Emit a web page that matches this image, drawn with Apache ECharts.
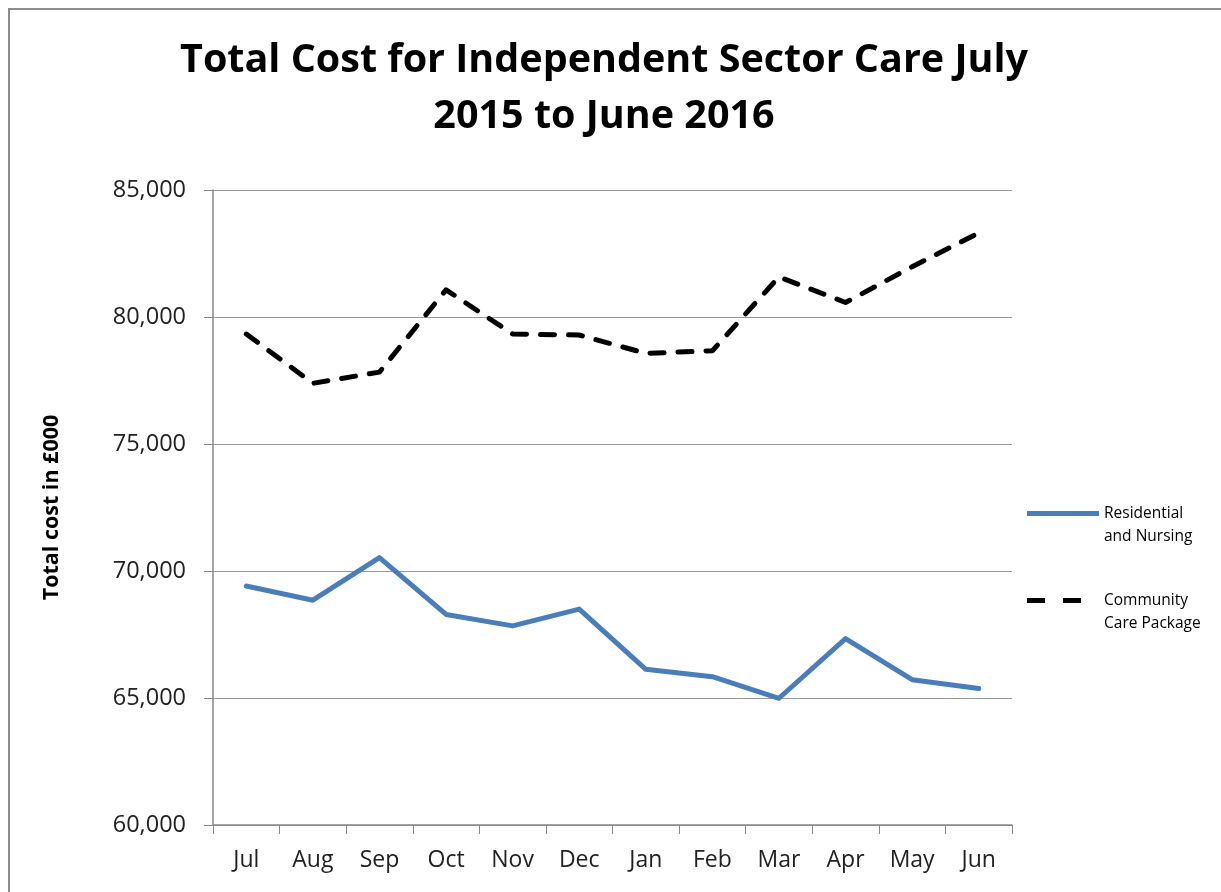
<!DOCTYPE html>
<html>
<head>
    <title>Total Cost for Independent Sector Care</title>
    <script src="https://cdn.jsdelivr.net/npm/echarts@6/dist/echarts.min.js"></script>
    <style>
        html, body {
            margin: 0;
            padding: 0;
            background: #fff;
        }
        #frame {
            position: absolute;
            left: 8px;
            top: 8px;
            width: 1240px;
            height: 900px;
            border: 2px solid #8c8c8c;
        }
        #chart {
            position: absolute;
            left: 0;
            top: 0;
            width: 1221px;
            height: 892px;
        }
    </style>
</head>
<body>
<div id="frame"></div>
<div id="chart"></div>
<script>
    var months = ['Jul', 'Aug', 'Sep', 'Oct', 'Nov', 'Dec', 'Jan', 'Feb', 'Mar', 'Apr', 'May', 'Jun'];
    var residentialNursing = [69410, 68850, 70530, 68290, 67840, 68500, 66130, 65840, 64990, 67340, 65720, 65370];
    var communityCare = [79330, 77390, 77830, 81070, 79330, 79290, 78570, 78670, 81580, 80570, 81980, 83310];
    var seriesNames = ['Residential\nand Nursing', 'Community\nCare Package'];

    var font = 'Open Sans';
    var chart = echarts.init(document.getElementById('chart'));

    // legend icons: solid bar and two dashes (last point only stretches the box to full width)
    var solidIcon = 'path://M0,0 L72,0 L72,5 L0,5 Z';
    var dashIcon = 'path://M0,0 L18,0 L18,5 L0,5 Z M36,0 L54,0 L54,5 L36,5 Z M72,2.5 L72,2.5 Z';

    chart.setOption({
        animation: false,
        title: {
            text: 'Total Cost for Independent Sector Care July\n2015 to June 2016',
            left: 599,
            textAlign: 'center',
            top: 28,
            textStyle: {
                fontFamily: font,
                fontWeight: 'bold',
                fontSize: 39.5,
                lineHeight: 56,
                color: '#000'
            }
        },
        legend: {
            orient: 'vertical',
            left: 1022,
            top: 474,
            itemWidth: 72,
            itemHeight: 5,
            itemGap: 18,
            data: [
                { name: seriesNames[0], icon: solidIcon, itemStyle: { color: '#4a7ebb' } },
                { name: seriesNames[1], icon: dashIcon, itemStyle: { color: '#000' } }
            ],
            formatter: function (name) {
                return '\n' + name;
            },
            textStyle: {
                fontFamily: font,
                fontSize: 15.5,
                lineHeight: 23,
                color: '#000'
            }
        },
        grid: {
            left: 213,
            right: 209,
            top: 190,
            bottom: 67
        },
        xAxis: {
            type: 'category',
            data: months,
            boundaryGap: true,
            axisLine: { lineStyle: { color: '#888', width: 1.5 } },
            axisTick: { show: true, length: 9, lineStyle: { color: '#888' } },
            axisLabel: {
                fontFamily: font,
                fontSize: 23,
                color: '#222',
                margin: 24
            }
        },
        yAxis: {
            type: 'value',
            min: 60000,
            max: 85000,
            interval: 5000,
            name: 'Total cost in £000',
            nameLocation: 'middle',
            nameGap: 150,
            nameTextStyle: {
                fontFamily: font,
                fontWeight: 'bold',
                fontSize: 21.5,
                color: '#000'
            },
            axisLine: { show: true, lineStyle: { color: '#888', width: 1.5 } },
            axisTick: { show: true, length: 9, lineStyle: { color: '#888' } },
            splitLine: { lineStyle: { color: '#999', width: 1.2 } },
            axisLabel: {
                fontFamily: font,
                fontSize: 23.5,
                color: '#222',
                margin: 27,
                formatter: function (v) {
                    return v.toLocaleString('en-GB');
                }
            }
        },
        series: [
            {
                name: seriesNames[0],
                type: 'line',
                data: residentialNursing,
                symbol: 'none',
                lineStyle: { color: '#4a7ebb', width: 5, cap: 'round', join: 'round' },
                itemStyle: { color: '#4a7ebb' }
            },
            {
                name: seriesNames[1],
                type: 'line',
                data: communityCare,
                symbol: 'none',
                lineStyle: { color: '#000', width: 5, type: [14, 14], cap: 'round', join: 'round' },
                itemStyle: { color: '#000' }
            }
        ]
    });
</script>
</body>
</html>
